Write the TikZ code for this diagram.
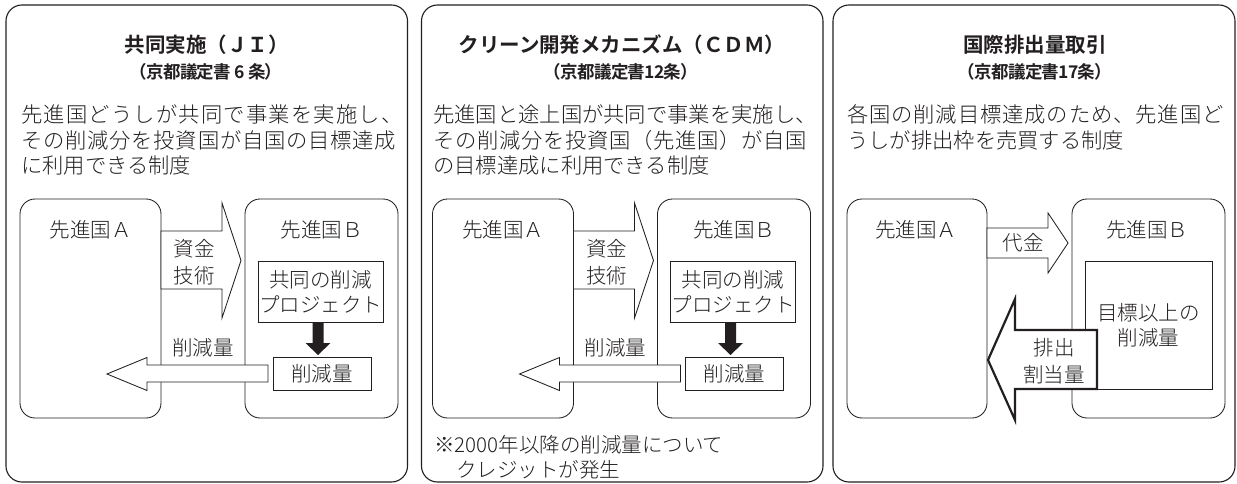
\documentclass[tikz,border=0pt]{standalone}
\usepackage{fontspec}
\setmainfont{Noto Sans CJK JP}[UprightFont=* Light, BoldFont=* Bold]
\definecolor{ink}{RGB}{35,31,32}
\tikzset{
  panel/.style={draw=ink, line width=1.1pt, rounded corners=16pt, inner sep=0pt},
  cbox/.style={draw=ink, line width=0.85pt, rounded corners=15pt, inner sep=0pt},
  rbox/.style={draw=ink, line width=0.85pt, inner sep=0pt},
  arr/.style={draw=ink, line width=0.85pt, fill=white, line join=miter},
  thickarr/.style={draw=ink, line width=2.2pt, fill=white, line join=miter},
  lab/.style={text=ink, inner sep=0pt, font=\fontsize{20.5pt}{24pt}\selectfont, text height=16.8pt, text depth=1.4pt},
  body/.style={text=ink, inner sep=0pt, anchor=west, font=\fontsize{21.3pt}{25pt}\selectfont, text height=17.5pt, text depth=1.5pt},
  ttl/.style={text=ink, inner sep=0pt, font=\fontsize{20.5pt}{24pt}\selectfont\bfseries, text height=16.8pt, text depth=1.4pt},
  sub/.style={text=ink, inner sep=0pt, font=\fontsize{17.5pt}{20pt}\selectfont\bfseries\addfontfeature{LetterSpace=-4}, text height=14.3pt, text depth=1.3pt},
}
\newcommand\lsp[2]{{\addfontfeature{LetterSpace=#1}#2}}
\newcommand\jdiag[1]{%
  \node[cbox, minimum width=141pt, minimum height=219pt] (#1A) at (90.5,308.5) {};
  \node[cbox, minimum width=153pt, minimum height=219pt] (#1B) at (321.5,308.5) {};
  \node[lab] (#1Al) at (90.5,230) {先進国Ａ};
  \node[lab] (#1Bl) at (321.5,230) {先進国Ｂ};
  \node[rbox, minimum width=125pt, minimum height=61pt] (#1P) at (320.5,291.5) {};
  \node[lab] (#1Pa) at (320.5,280) {共同の削減};
  \node[lab] (#1Pb) at (320.5,305) {プロジェクト};
  \node[rbox, minimum width=98pt, minimum height=33pt] (#1R) at (322,373.5) {};
  \node[lab] (#1Rl) at (322,373.5) {削減量};
  \fill[ink] (312.5,322) -- (323.5,322) -- (323.5,343) -- (330.5,343) -- (318,355) -- (305.5,343) -- (312.5,343) -- cycle;
  \draw[arr] (161,231) -- (222,231) -- (222,203) -- (241,260.5) -- (222,318) -- (222,289) -- (161,289) -- cycle;
  \node[lab] (#1ma) at (194,249) {資金};
  \node[lab] (#1mb) at (194,276) {技術};
  \draw[arr] (268,365) -- (147,365) -- (147,357.5) -- (107,374) -- (147,390.5) -- (147,382) -- (268,382) -- cycle;
  \node[lab] (#1cut) at (203,348) {削減量};
}
\begin{document}
\begin{tikzpicture}[x=1pt, y=-1pt]
\useasboundingbox (0,0) rectangle (1237,484);
\fill[white] (0,0) rectangle (1237,484);
% panels
\node[panel, minimum width=401.5pt, minimum height=477pt] (P1) at (206.75,243.5) {};
\node[panel, minimum width=401.5pt, minimum height=477pt] (P2) at (622.25,243.5) {};
\node[panel, minimum width=402pt, minimum height=477pt] (P3) at (1034,243.5) {};
% titles
\node[ttl] (t1) at (206.5,45) {共同実施（ＪＩ）};
\node[sub] (s1) at (206,72) {（京都議定書 6 条）};
\node[ttl] (t2) at (622,45) {クリーン開発メカニズム（ＣＤＭ）};
\node[sub] (s2) at (621,72) {（京都議定書12条）};
\node[ttl] (t3) at (1035,45) {国際排出量取引};
\node[sub] (s3) at (1035,72) {（京都議定書17条）};
% body texts
\node[body] (b11) at (21,115) {\lsp{5.6}{先進国どうしが共同で事業を実施し、}};
\node[body] (b12) at (21,141) {\lsp{3.8}{その削減分を投資国が自国の目標達成}};
\node[body] (b13) at (21,166) {に利用できる制度};
\node[body] (b21) at (433,115) {先進国と途上国が共同で事業を実施し、};
\node[body] (b22) at (433,141) {\lsp{3.3}{その削減分を投資国（先進国）が自国}};
\node[body] (b23) at (433,166) {の目標達成に利用できる制度};
\node[body] (b31) at (847,115) {\lsp{4.2}{各国の削減目標達成のため、先進国ど}};
\node[body] (b32) at (847,141) {うしが排出枠を売買する制度};
% diagrams 1 and 2
\jdiag{j}
\begin{scope}[shift={(412.5,0)}]
\jdiag{c}
\end{scope}
% note
\node[lab, anchor=west] (n1) at (434,445) {※2000年以降の削減量について};
\node[lab, anchor=west] (n2) at (456,470) {クレジットが発生};
% diagram 3
\node[cbox, minimum width=140pt, minimum height=219pt] (eA) at (917,308.5) {};
\node[cbox, minimum width=153pt, minimum height=219pt] (eB) at (1148.5,308.5) {};
\node[lab] (eAl) at (916,230) {先進国Ａ};
\node[lab] (eBl) at (1147,230) {先進国Ｂ};
\draw[arr] (987,228) -- (1048,228) -- (1048,213) -- (1068,243) -- (1048,273) -- (1048,258) -- (987,258) -- cycle;
\node[lab] (eml) at (1023,243) {代金};
\node[rbox, minimum width=127pt, minimum height=128pt] (eT) at (1148.5,325) {};
\node[lab] (eTa) at (1148.5,313) {目標以上の};
\node[lab] (eTb) at (1148.5,338) {削減量};
\draw[thickarr] (1097,330) -- (1015,330) -- (1015,299) -- (988,360) -- (1015,420) -- (1015,389) -- (1097,389) -- cycle;
\node[lab] (ewa) at (1054,348) {排出};
\node[lab] (ewb) at (1054,375) {割当量};
\end{tikzpicture}
\end{document}
